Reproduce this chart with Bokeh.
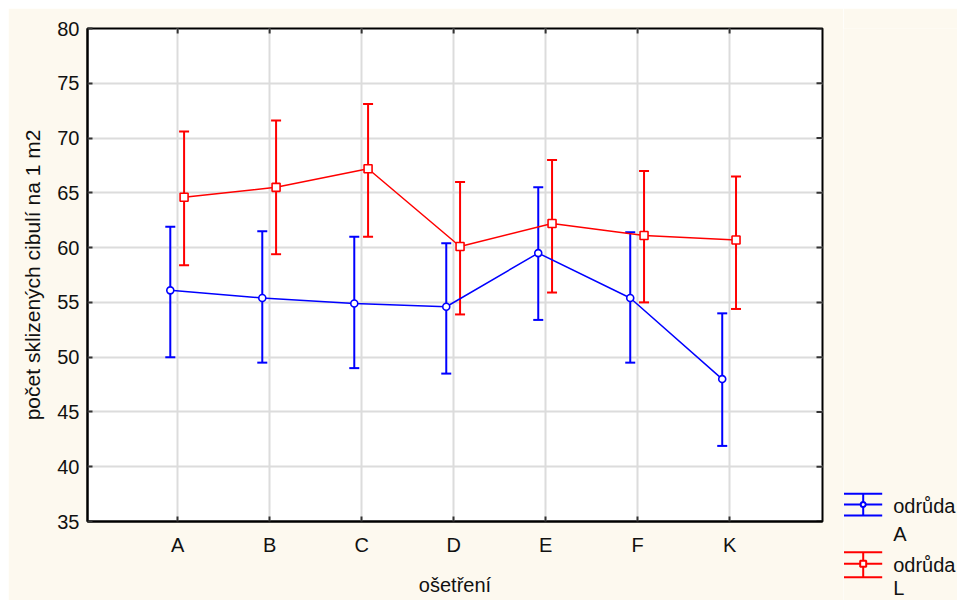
import math
from bokeh.plotting import figure
from bokeh.models import Range1d, FixedTicker, ColumnDataSource, Whisker, TeeHead, Spacer
from bokeh.layouts import row, column
from bokeh.embed import file_html
from bokeh.resources import INLINE
from bokeh.core.properties import value

# ---- data ----
categories = ["A", "B", "C", "D", "E", "F", "K"]
mean_A = [56.1, 55.4, 54.9, 54.6, 59.5, 55.4, 48.0]
upper_A = [61.9, 61.5, 61.0, 60.4, 65.5, 61.4, 54.0]
lower_A = [50.0, 49.5, 49.0, 48.5, 53.4, 49.5, 41.9]
mean_L = [64.6, 65.5, 67.2, 60.1, 62.2, 61.1, 60.7]
upper_L = [70.6, 71.6, 73.1, 66.0, 68.0, 67.0, 66.5]
lower_L = [58.4, 59.4, 61.0, 53.9, 55.9, 55.0, 54.4]
y_ticks = [35, 40, 45, 50, 55, 60, 65, 70, 75, 80]
series_names = ["odrůda A", "odrůda L"]

FONT = "Liberation Sans"
CREAM = "#fdf9ef"
BLUE = "#0000ff"
RED = "#ff0000"
TXT = "#111111"
X0, X1 = 0.02, 8.01
Y0, Y1 = 35, 80

positions = list(range(1, len(categories) + 1))

p = figure(width=835, height=592, title=None,
           x_range=Range1d(X0, X1), y_range=Range1d(Y0, Y1),
           output_backend="svg", toolbar_location=None,
           min_border_left=79, min_border_right=21,
           min_border_top=20, min_border_bottom=79,
           x_axis_label="ošetření",
           y_axis_label="počet sklizených cibulí na 1 m2")
p.background_fill_color = "white"
p.border_fill_color = CREAM
p.outline_line_color = "black"
p.outline_line_width = 2

p.xaxis.ticker = FixedTicker(ticks=positions)
p.xaxis.major_label_overrides = {pos: c for pos, c in zip(positions, categories)}
p.yaxis.ticker = FixedTicker(ticks=y_ticks)

for ax in (p.xaxis[0], p.yaxis[0]):
    ax.major_tick_in = 5
    ax.major_tick_out = 0
    ax.minor_tick_line_color = None
    ax.axis_line_color = "black"
    ax.axis_line_width = 2
    ax.major_tick_line_color = "#333333"
    ax.major_tick_line_width = 2
    ax.major_label_text_font = FONT
    ax.major_label_text_font_size = "20px"
    ax.major_label_text_color = TXT
    ax.axis_label_text_font = FONT
    ax.axis_label_text_font_size = "20px"
    ax.axis_label_text_font_style = "normal"
    ax.axis_label_text_color = TXT

p.yaxis.axis_label_text_font_size = "21px"
p.xaxis.major_label_standoff = 12
p.xaxis.axis_label_standoff = 15
p.yaxis.major_label_standoff = 8
p.yaxis.axis_label_standoff = 10

p.xgrid.grid_line_color = "#dcdcdc"
p.xgrid.grid_line_width = 2
p.ygrid.grid_line_color = "#dcdcdc"
p.ygrid.grid_line_width = 2

# inward ticks on the top and right edges of the frame (half clipped away)
p.scatter(x=positions, y=[Y1] * len(positions), marker="dash", angle=math.pi / 2,
          size=10, line_color="#333333", line_width=2)
p.scatter(x=[X1] * len(y_ticks), y=y_ticks, marker="dash",
          size=12, line_color="#333333", line_width=2)

series = [
    (mean_A, upper_A, lower_A, BLUE, -0.08, "circle", 7),
    (mean_L, upper_L, lower_L, RED, 0.07, "square", 8),
]
for mean, up, lo, col, off, mk, sz in series:
    src = ColumnDataSource(dict(x=[x + off for x in positions], y=mean, upper=up, lower=lo))
    w = Whisker(base="x", upper="upper", lower="lower", source=src, dimension="height",
                line_color=col, line_width=2,
                upper_head=TeeHead(size=10, line_color=col, line_width=2),
                lower_head=TeeHead(size=10, line_color=col, line_width=2))
    p.add_layout(w)
    p.line("x", "y", source=src, line_color=col, line_width=1.5)
    p.scatter("x", "y", source=src, marker=mk, size=sz, line_color=col,
              fill_color="white", line_width=1.6)

# ---- legend panel (separate figure on the right; its frame top aligns with the plot's) ----
leg = figure(frame_width=114, frame_height=572, title=None,
             x_range=Range1d(0, 114), y_range=Range1d(0, 572),
             output_backend="svg", toolbar_location=None,
             x_axis_type=None, y_axis_type=None,
             min_border=0, min_border_top=20)
leg.outline_line_color = None
leg.background_fill_color = CREAM
leg.border_fill_color = CREAM
leg.xgrid.visible = False
leg.ygrid.visible = False

legend_rows = [
    (BLUE, "circle", 5, 106.7, 96.0, 85.0, 95.0, 66.7),
    (RED, "square", 6, 48.3, 36.7, 23.3, 36.0, 12.5),
]
for (col, mk, sz, ytop, ymid, ybot, ytxt, ytxt2), name in zip(legend_rows, series_names):
    first, second = name.split(" ")
    leg.segment(x0=[0.5, 0.5, 0.5, 19.7], y0=[ytop, ymid, ybot, ybot],
                x1=[38.7, 38.7, 38.7, 19.7], y1=[ytop, ymid, ybot, ytop],
                line_color=col, line_width=2)
    leg.scatter(x=[19.7], y=[ymid], marker=mk, size=sz, line_color=col,
                fill_color="white", line_width=2)
    leg.text(x=[49.7, 49.7], y=[ytxt, ytxt2], text=[first, second],
             text_font=value(FONT), text_font_size="20px", text_color=TXT,
             text_baseline="middle", text_align="left")

layout = row(Spacer(width=8), column(Spacer(height=8), row(p, leg)))
open("out.html", "w").write(file_html(layout, INLINE))
